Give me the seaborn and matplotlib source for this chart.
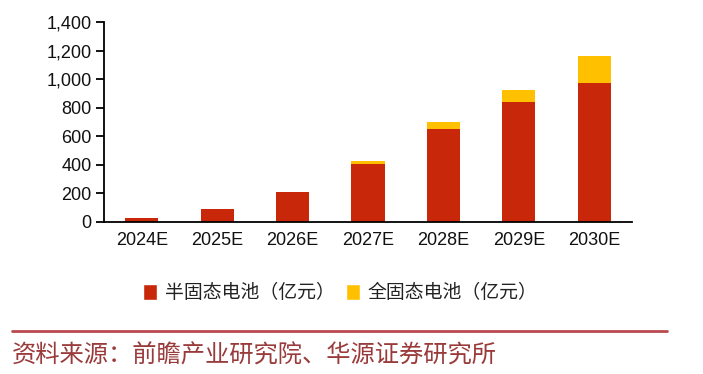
import numpy as np
import pandas as pd
import seaborn as sns
from matplotlib import pyplot as plt
from matplotlib.lines import Line2D
from matplotlib.patches import Patch
from matplotlib.ticker import FuncFormatter

years = ['2024E', '2025E', '2026E', '2027E', '2028E', '2029E', '2030E']
semi_solid = [28, 91, 213, 407, 653, 843, 978]   # 半固态电池（亿元）
all_solid = [0, 0, 0, 24, 47, 85, 190]           # 全固态电池（亿元）

RED = '#C8270A'
YELLOW = '#FFC000'

sns.set_theme(style='white')
plt.rcParams['font.family'] = ['Liberation Sans', 'Noto Sans CJK SC', 'DejaVu Sans']

df = pd.DataFrame({'year': years, 'semi': semi_solid, 'all': all_solid})
df['total'] = df['semi'] + df['all']

fig = plt.figure(figsize=(7.03, 3.74), dpi=100)
ax = fig.add_axes([0.148, 0.4065, 0.751, 0.5335])

# stacked: total in yellow underneath, semi-solid in red on top
sns.barplot(data=df, x='year', y='total', color=YELLOW, width=0.44, saturation=1,
            linewidth=0, ax=ax)
sns.barplot(data=df, x='year', y='semi', color=RED, width=0.44, saturation=1,
            linewidth=0, ax=ax)

ax.set_xlim(-0.5, 6.5)
ax.set_ylim(0, 1400)
ax.set_yticks(np.arange(0, 1401, 200))
ax.yaxis.set_major_formatter(FuncFormatter(lambda v, p: f'{int(v):,}'))
ax.set_xlabel('')
ax.set_ylabel('')

for s in ['top', 'right']:
    ax.spines[s].set_visible(False)
for s in ['left', 'bottom']:
    ax.spines[s].set_color('black')
    ax.spines[s].set_linewidth(1.3)

ax.set_xticks(np.arange(-0.5, 7, 1), minor=True)
ax.tick_params(axis='x', which='major', length=0, labelsize=13, pad=7, colors='#111111')
ax.tick_params(axis='x', which='minor', length=6, width=1.3, color='black', direction='out')
ax.tick_params(axis='y', which='major', length=6, width=1.3, color='black', direction='out',
               labelsize=13, pad=3, labelcolor='#111111')
ax.tick_params(left=True, bottom=True)

handles = [Patch(facecolor=RED, label='半固态电池（亿元）'),
           Patch(facecolor=YELLOW, label='全固态电池（亿元）')]
fig.legend(handles=handles, loc='center', bbox_to_anchor=(0.484, 0.217), ncol=2, frameon=False,
           handlelength=0.75, handleheight=0.95, handletextpad=0.4, columnspacing=0.6,
           labelcolor='#222222', prop={'family': ['Noto Sans CJK SC'], 'size': 13.6})

fig.add_artist(Line2D([0.017, 0.949], [0.114, 0.114], color='#B94A50', linewidth=2,
                      transform=fig.transFigure))
fig.text(0.017, 0.05, '资料来源：前瞻产业研究院、华源证券研究所', fontsize=17.5, color='#9A3B3B',
         family=['Noto Sans CJK SC'], va='center')

plt.savefig('out.png', dpi=100)
